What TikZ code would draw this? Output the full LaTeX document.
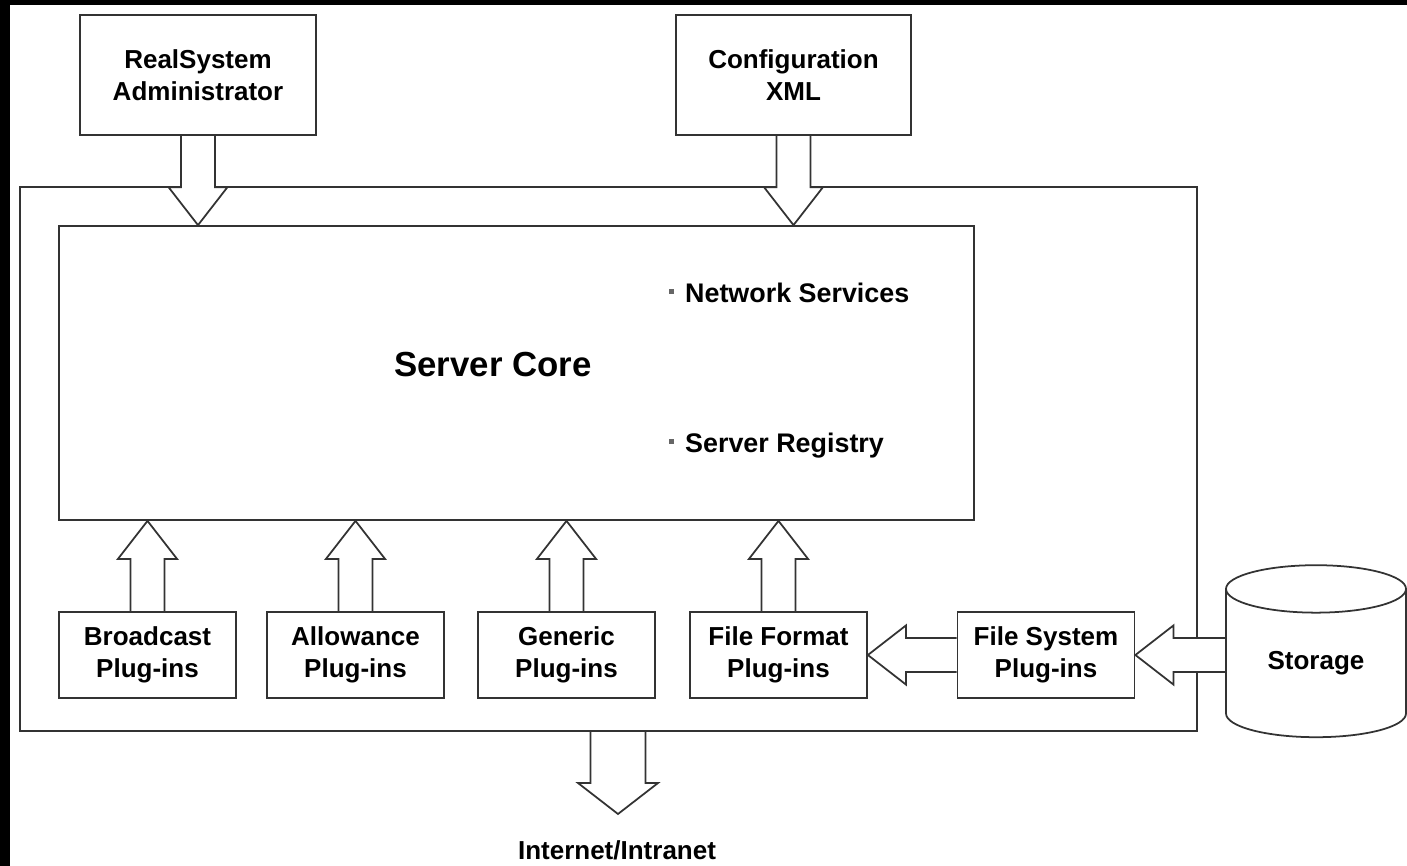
\documentclass[tikz,border=0pt]{standalone}
\usepackage{fontspec}
\setmainfont{Liberation Sans}
\usetikzlibrary{positioning,calc,shapes.geometric,backgrounds}
\tikzset{
  box/.style={draw=black!80,line width=1pt,align=center,inner sep=0pt,
    font=\bfseries\fontsize{14.8}{18.2}\selectfont,minimum width=3.54cm,minimum height=1.72cm},
  txt/.style={inner sep=0pt,font=\bfseries\fontsize{14.8}{18.2}\selectfont},
  blockarrow/.style={draw=black!80,line width=1pt,fill=white,line join=miter}
}
%hollow arrow from a base point #1 to a tip #2
\newcommand\fatarrow[2]{%
  \coordinate (fahead) at ($(#2)!\kl!(#1)$);
  \draw[blockarrow] ($(#1)!\ks!90:(#2)$)--($(fahead)!\ks!90:(#2)$)--($(fahead)!\kh!90:(#2)$)--(#2)
    --($(fahead)!\kh!-90:(#2)$)--($(fahead)!\ks!-90:(#2)$)--($(#1)!\ks!-90:(#2)$);
}
%small square bullet
\newcommand\sqbul{\raisebox{4.8pt}{\textcolor{black!60}{\rule{2.4pt}{2.4pt}}}\hspace{6.6pt}}
\begin{document}
\begin{tikzpicture}
\pgfmathsetlengthmacro{\ks}{0.34cm}
\pgfmathsetlengthmacro{\kh}{0.59cm}
\pgfmathsetlengthmacro{\kl}{0.76cm}
\useasboundingbox (0,0) rectangle (28.14,-17.32);
%top boxes
\node[box,minimum width=4.72cm,minimum height=2.4cm] (adm) at (3.96,-1.5) {RealSystem\\Administrator};
\node[box,minimum width=4.7cm,minimum height=2.4cm] (cfg) at (15.87,-1.5) {Configuration\\XML};
%core
\node[box,minimum width=18.3cm,minimum height=5.88cm] (core) at (10.33,-7.46) {};
\node[txt,font=\bfseries\fontsize{19.8}{24}\selectfont] (sc) at (9.86,-7.3) {Server Core};
\node[txt,anchor=base west,font=\bfseries\fontsize{15.3}{18.2}\selectfont] (ns) at (13.38,-6.04) {\sqbul Network Services};
\node[txt,anchor=base west,font=\bfseries\fontsize{15.3}{18.2}\selectfont] (sr) at (13.38,-9.04) {\sqbul Server Registry};
%plug-ins
\node[box] (bc) at (2.95,-13.1) {Broadcast\\Plug-ins};
\node[box] (al) at (7.11,-13.1) {Allowance\\Plug-ins};
\node[box] (ge) at (11.33,-13.1) {Generic\\Plug-ins};
\node[box] (ff) at (15.57,-13.1) {File Format\\Plug-ins};
\node[box] (fs) at (20.92,-13.1) {File System\\Plug-ins};
%storage
\node[box,cylinder,shape border rotate=90,aspect=0.49,minimum width=3.6cm,minimum height=3.44cm] (sto) at (26.32,-13.27) {Storage};
\node[txt,anchor=base] (inet) at (12.34,-17.18) {Internet/Intranet};
\coordinate (nettip) at (12.36,-16.28);
\begin{pgfonlayer}{background}
\fill[white] (0,0) rectangle (28.14,-17.32);
\fill[black] (0,0) rectangle (28.14,-0.1);
\fill[black] (0,0) rectangle (0.2,-17.32);
%out to the network
\pgfmathsetlengthmacro{\ks}{0.55cm}
\pgfmathsetlengthmacro{\kh}{0.8cm}
\pgfmathsetlengthmacro{\kl}{0.62cm}
\fatarrow{nettip |- 0,-14.62}{nettip}
\pgfmathsetlengthmacro{\ks}{0.34cm}
\pgfmathsetlengthmacro{\kh}{0.59cm}
\pgfmathsetlengthmacro{\kl}{0.76cm}
%server frame
\node[draw=black!80,line width=1pt,minimum width=23.54cm,minimum height=10.88cm,inner sep=0pt] (srv) at (12.17,-9.18) {};
\fatarrow{adm.south}{adm.south |- core.north}
\fatarrow{cfg.south}{cfg.south |- core.north}
\foreach \p in {bc,al,ge,ff}
  \fatarrow{\p.north}{\p.north |- core.south};
\fatarrow{fs.west}{fs.west -| ff.east}
\fatarrow{fs.east -| sto.west}{fs.east}
\end{pgfonlayer}
\end{tikzpicture}
\end{document}
